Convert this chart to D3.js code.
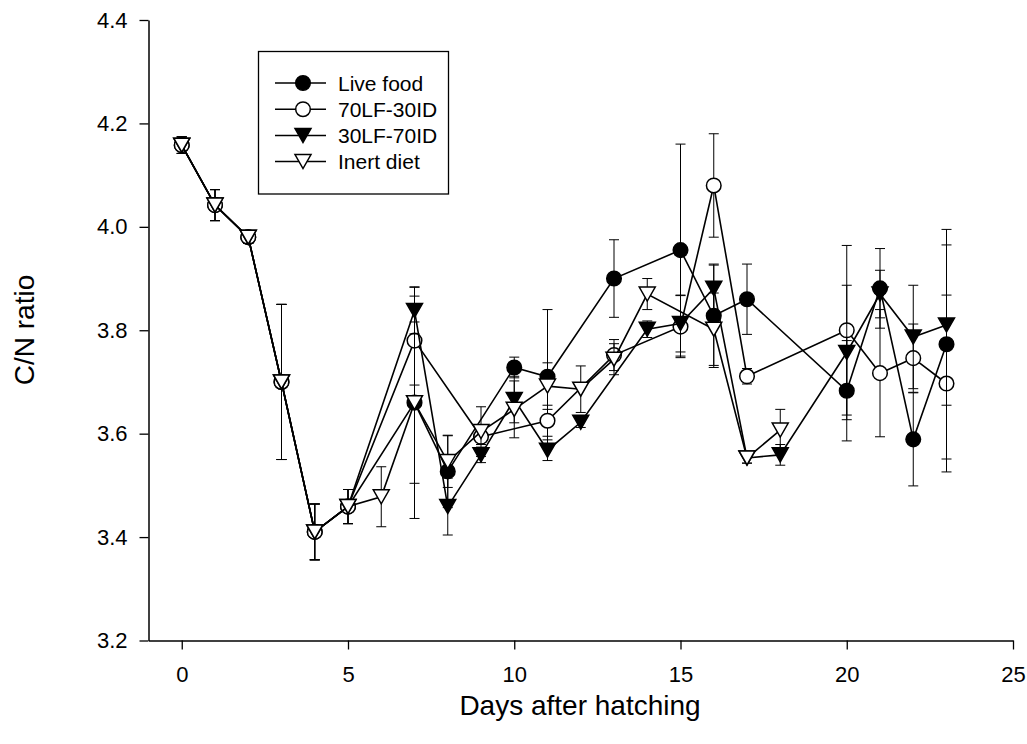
<!DOCTYPE html>
<html>
<head>
<meta charset="utf-8">
<script src="https://cdn.jsdelivr.net/npm/d3@7"></script>
<style>
  body { margin: 0; background: #fff; }
  text { font-family: "Liberation Sans", Arial, sans-serif; fill: #000; }
</style>
</head>
<body>
<script>
const days = [0, 1, 2, 3, 4, 5, 6, 7, 8, 9, 10, 11, 12, 13, 14, 15, 16, 17, 18, 20, 21, 22, 23];

// mean C/N and error per treatment (null = not sampled)
const liveFood    = [4.158, 4.042, 3.980, 3.700, 3.410, 3.459, null, 3.660, 3.527, null, 3.728, 3.710, null, 3.900, null, 3.955, 3.828, 3.860, null, 3.683, 3.881, 3.589, 3.773];
const liveFoodErr = [0.016, 0.030, 0.012, 0.150, 0.054, 0.033, null, 0.224, 0.070, null, 0.020, 0.130, null, 0.075, null, 0.205, 0.100, 0.068, null, 0.097, 0.077, 0.090, 0.222];

const lf70    = [4.158, 4.042, 3.980, 3.700, 3.410, 3.459, null, 3.780, null, 3.594, null, 3.625, null, 3.752, null, 3.807, 4.080, 3.711, null, 3.800, 3.717, 3.746, 3.697];
const lf70Err = [0.016, 0.030, 0.012, 0.150, 0.054, 0.033, null, 0.086, null, 0.015, null, 0.030, null, 0.030, null, 0.060, 0.100, 0.015, null, 0.164, 0.123, 0.066, 0.171];

const lf30    = [4.158, 4.042, 3.980, 3.700, 3.410, 3.459, null, 3.838, 3.459, 3.559, 3.666, 3.568, 3.622, null, 3.802, 3.813, 3.881, 3.553, 3.559, 3.757, 3.870, 3.787, 3.810];
const lf30Err = [0.016, 0.030, 0.012, 0.150, 0.054, 0.033, null, 0.045, 0.055, 0.015, 0.045, 0.020, 0.010, null, 0.016, 0.055, 0.045, 0.010, 0.020, 0.130, 0.046, 0.100, 0.155];

const inert    = [4.158, 4.042, 3.980, 3.700, 3.410, 3.459, 3.478, 3.660, 3.546, 3.604, 3.647, 3.692, 3.686, 3.744, 3.870, null, 3.802, 3.553, 3.607, null, null, null, null];
const inertErr = [0.016, 0.030, 0.012, 0.150, 0.054, 0.033, 0.058, 0.156, 0.050, 0.048, 0.055, 0.045, 0.045, 0.030, 0.030, null, 0.070, 0.010, 0.040, null, null, null, null];

const seriesNames = ["Live food", "70LF-30ID", "30LF-70ID", "Inert diet"];
const xTicks = [0, 5, 10, 15, 20, 25];
const yTicks = [3.2, 3.4, 3.6, 3.8, 4.0, 4.2, 4.4];

const series = [
  {name: seriesNames[0], vals: liveFood, errs: liveFoodErr, shape: "circle", fill: "#000"},
  {name: seriesNames[1], vals: lf70, errs: lf70Err, shape: "circle", fill: "#fff"},
  {name: seriesNames[2], vals: lf30, errs: lf30Err, shape: "tri", fill: "#000"},
  {name: seriesNames[3], vals: inert, errs: inertErr, shape: "tri", fill: "#fff"}
];

const W = 1027, H = 744;
const x = d3.scaleLinear().domain([-1, 25]).range([148.5, 1013]);
const y = d3.scaleLinear().domain([3.2, 4.4]).range([640.5, 20]);

const svg = d3.select("body").append("svg")
    .attr("width", W)
    .attr("height", H);

// axes
const xAxis = svg.append("g")
    .attr("transform", "translate(0," + y(3.2) + ")")
    .call(d3.axisBottom(x).tickValues(xTicks).tickSize(9).tickSizeOuter(0).tickPadding(17));
const yAxis = svg.append("g")
    .attr("transform", "translate(" + x(-1) + ",0)")
    .call(d3.axisLeft(y).tickValues(yTicks).tickFormat(d3.format(".1f")).tickSize(9).tickSizeOuter(0).tickPadding(12));
[xAxis, yAxis].forEach(a => {
  a.select(".domain").attr("stroke-width", 1.5);
  a.selectAll(".tick line").attr("stroke-width", 1.3);
  a.selectAll("text").style("font-size", "22px").attr("fill", "#000");
});

svg.append("text")
    .attr("x", 580).attr("y", 715)
    .attr("text-anchor", "middle")
    .style("font-size", "28px")
    .text("Days after hatching");
svg.append("text")
    .attr("transform", "translate(34,330) rotate(-90)")
    .attr("text-anchor", "middle")
    .style("font-size", "28px")
    .text("C/N ratio");

const triPath = "M-8,-7L8,-7L0,7Z";
function drawMarker(g, shape, fill) {
  if (shape === "circle") {
    g.append("circle").attr("r", 7.3)
      .attr("fill", fill).attr("stroke", "#000").attr("stroke-width", 1.5);
  } else {
    g.append("path").attr("d", triPath)
      .attr("fill", fill).attr("stroke", "#000").attr("stroke-width", 1.5)
      .attr("stroke-linejoin", "miter");
  }
}

const line = d3.line()
    .defined(d => d.v !== null)
    .x(d => x(d.day))
    .y(d => y(d.v));

series.forEach(s => {
  const pts = days.map((day, i) => ({day: day, v: s.vals[i], e: s.errs[i]}));
  const valid = pts.filter(d => d.v !== null);
  const g = svg.append("g");

  // error bars
  const eb = g.selectAll(".err").data(valid).enter().append("g")
      .attr("stroke", "#000").attr("stroke-width", 1);
  eb.append("line")
      .attr("x1", d => x(d.day)).attr("x2", d => x(d.day))
      .attr("y1", d => y(d.v + d.e)).attr("y2", d => y(d.v - d.e));
  eb.append("line")
      .attr("x1", d => x(d.day) - 5).attr("x2", d => x(d.day) + 5)
      .attr("y1", d => y(d.v + d.e)).attr("y2", d => y(d.v + d.e));
  eb.append("line")
      .attr("x1", d => x(d.day) - 5).attr("x2", d => x(d.day) + 5)
      .attr("y1", d => y(d.v - d.e)).attr("y2", d => y(d.v - d.e));

  // connecting line skips days without a sample
  g.append("path")
      .datum(valid)
      .attr("fill", "none")
      .attr("stroke", "#000")
      .attr("stroke-width", 1.6)
      .attr("d", line);

  g.selectAll(".mk").data(valid).enter().append("g")
      .attr("transform", d => "translate(" + x(d.day) + "," + y(d.v) + ")")
      .each(function() { drawMarker(d3.select(this), s.shape, s.fill); });
});

// legend
const legend = svg.append("g");
legend.append("rect")
    .attr("x", 258.5).attr("y", 51.5).attr("width", 190).attr("height", 142.5)
    .attr("fill", "#fff").attr("stroke", "#000").attr("stroke-width", 1.3);
series.forEach((s, i) => {
  const ly = 83 + i * 26.2;
  const row = legend.append("g");
  row.append("line").attr("x1", 275).attr("x2", 326).attr("y1", ly).attr("y2", ly)
      .attr("stroke", "#000").attr("stroke-width", 1.5);
  const m = row.append("g").attr("transform", "translate(303," + ly + ")");
  drawMarker(m, s.shape, s.fill);
  row.append("text").attr("x", 338).attr("y", ly + 7.5)
      .style("font-size", "21px")
      .text(s.name);
});
</script>
</body>
</html>
